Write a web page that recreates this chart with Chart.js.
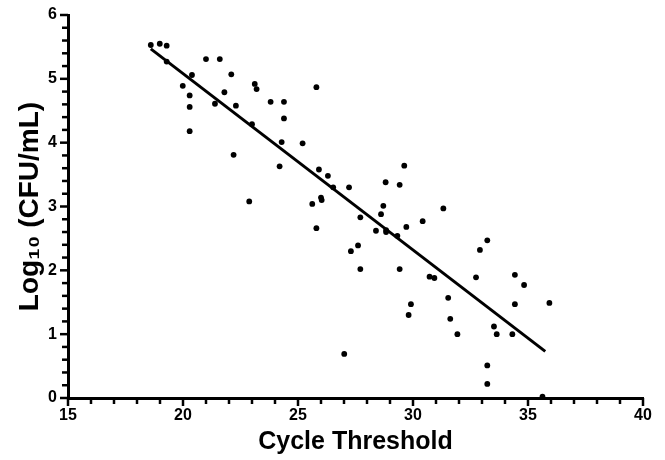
<!DOCTYPE html>
<html>
<head>
<meta charset="utf-8">
<script src="https://cdn.jsdelivr.net/npm/chart.js@4"></script>
<style>
html,body{margin:0;padding:0;background:#fff;}
#wrap{width:665px;height:460px;position:relative;}
</style>
</head>
<body>
<div id="wrap"><canvas id="c" width="665" height="460"></canvas></div>
<script>
// Cycle threshold (x) and Log10 CFU/mL (y) for each sample
const ctValues = [18.60,18.99,19.29,19.29,21.00,21.60,20.39,22.10,19.99,23.12,23.20,20.29,21.80,20.29,21.39,22.30,23.00,20.29,22.20,22.88,25.80,23.81,24.39,24.39,24.29,25.20,24.20,25.91,26.30,26.53,27.22,29.62,28.81,29.42,25.62,26.00,26.03,28.71,28.61,27.71,30.42,25.80,28.39,28.83,28.83,29.32,29.71,27.61,27.30,27.71,29.42,31.32,33.23,32.91,30.72,30.93,32.74,34.43,34.83,31.53,29.91,34.43,35.93,31.62,33.52,33.64,31.93,34.32,33.23,33.23,35.63,29.81,27.01];
const logCfu   = [5.53,5.55,5.52,5.27,5.31,5.31,5.06,5.07,4.89,4.92,4.84,4.74,4.79,4.56,4.61,4.58,4.29,4.18,3.81,3.08,4.87,4.64,4.64,4.38,4.01,3.99,3.63,3.58,3.48,3.30,3.30,3.64,3.38,3.34,3.04,3.14,3.10,3.01,2.88,2.83,2.77,2.66,2.62,2.63,2.60,2.54,2.68,2.39,2.30,2.02,2.02,2.97,2.47,2.32,1.90,1.88,1.89,1.93,1.77,1.57,1.47,1.47,1.49,1.24,1.12,1.00,1.00,1.00,0.51,0.22,0.02,1.30,0.69];
// Regression line end points
const fitX = [18.6, 35.75];
const fitY = [5.47, 0.73];
// Axis ticks
const xTickLabels = [15,20,25,30,35,40];
const yTickLabels = [0,1,2,3,4,5,6];

const points = ctValues.map((x,i)=>({x:x,y:logCfu[i]}));
const line = fitX.map((x,i)=>({x:x,y:fitY[i]}));

const tickFont = {family:'"Liberation Sans", Arial, sans-serif', size:16, weight:'bold'};
const titleFont = {family:'"Liberation Sans", Arial, sans-serif', size:25, weight:'bold'};
const yTitleFont = {family:'"Liberation Sans", Arial, sans-serif', size:28, weight:'bold'};

const tickMarks = {
  id:'tickMarks',
  afterDraw(chart){
    const ctx = chart.ctx;
    const xs = chart.scales.x, ys = chart.scales.y;
    ctx.save();
    ctx.strokeStyle = '#000';
    ctx.lineWidth = 2.5;
    ctx.lineCap = 'butt';
    const yAxisX = xs.left, xAxisY = ys.bottom;
    xs.ticks.forEach(t=>{
      const px = xs.getPixelForValue(t.value);
      const len = xTickLabels.includes(t.value) ? 8 : 6;
      ctx.beginPath(); ctx.moveTo(px, xAxisY); ctx.lineTo(px, xAxisY+len); ctx.stroke();
    });
    ys.ticks.forEach(t=>{
      const py = ys.getPixelForValue(t.value);
      const major = yTickLabels.includes(Math.round(t.value*10)/10);
      const len = major ? 8 : 6;
      ctx.beginPath(); ctx.moveTo(yAxisX, py); ctx.lineTo(yAxisX-len, py); ctx.stroke();
    });
    ctx.restore();
  }
};

new Chart(document.getElementById('c'), {
  type:'scatter',
  data:{
    datasets:[
      {type:'line', data:line, borderColor:'#000', borderWidth:3, pointRadius:0, fill:false, order:1},
      {data:points, backgroundColor:'#000', borderColor:'#000', pointRadius:2.9, pointBorderWidth:0, order:2}
    ]
  },
  plugins:[tickMarks],
  options:{
    responsive:false,
    animation:false,
    layout:{padding:{top:15,right:22,left:0,bottom:0}},
    plugins:{legend:{display:false}, tooltip:{enabled:false}},
    scales:{
      x:{
        type:'linear', min:15, max:40,
        afterBuildTicks(s){ const a=[]; for(let v=15; v<=40; v++) a.push({value:v}); s.ticks=a; },
        afterFit(s){ s.height = 62; },
        grid:{display:true, drawOnChartArea:false, drawTicks:true, tickLength:8, color:'rgba(0,0,0,0)'},
        border:{display:true, color:'#000', width:3},
        ticks:{autoSkip:false, maxRotation:0, color:'#000', font:tickFont, padding:0,
          callback:(v)=> xTickLabels.includes(v) ? String(v) : ''},
        title:{display:true, text:'Cycle Threshold', color:'#000', font:titleFont, padding:{top:0,bottom:3}}
      },
      y:{
        type:'linear', min:0, max:6,
        afterBuildTicks(s){ const a=[]; for(let i=0;i<=30;i++) a.push({value:Math.round(i*2)/10}); s.ticks=a; },
        afterFit(s){ s.width = 68; },
        grid:{display:true, drawOnChartArea:false, drawTicks:true, tickLength:8, color:'rgba(0,0,0,0)'},
        border:{display:true, color:'#000', width:3},
        ticks:{autoSkip:false, color:'#000', font:tickFont, padding:3,
          callback:(v)=> yTickLabels.includes(Math.round(v*10)/10) ? String(Math.round(v)) : ''},
        title:{display:true, text:'Log\u2081\u2080 (CFU/mL)', color:'#000', font:yTitleFont, padding:{top:13,bottom:0}}
      }
    }
  }
});
</script>
</body>
</html>
